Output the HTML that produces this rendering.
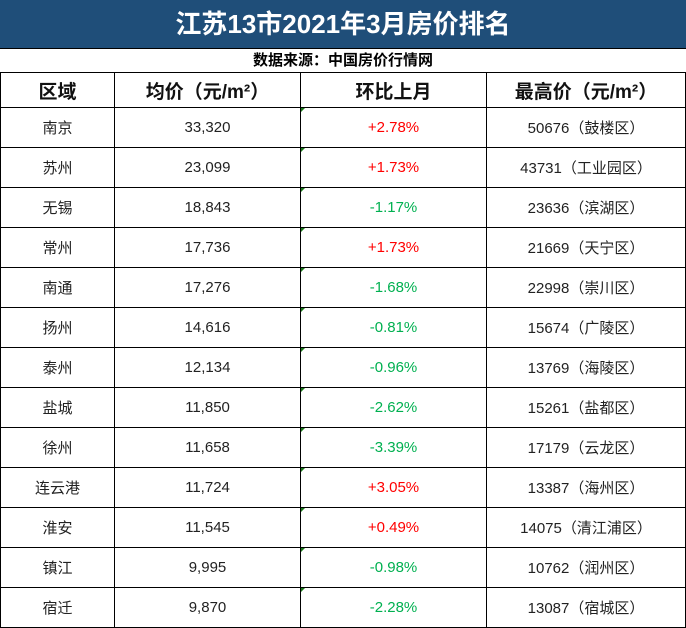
<!DOCTYPE html>
<html><head><meta charset="utf-8"><style>
body{margin:0;width:686px;height:628px;background:#fff;font-family:"Liberation Sans","Noto Sans CJK SC",sans-serif;overflow:hidden}
.wrap{position:absolute;left:0;top:0;width:684px;height:627px;border:1px solid #000;border-right:2px solid #000;box-sizing:border-box}
.title{position:absolute;left:0;top:0;width:686px;height:49px;background:#1f4e79;color:#fff;font-weight:bold;font-size:26px;text-align:center;line-height:49px;border-bottom:1px solid #000;box-sizing:border-box}
.sub{position:absolute;left:0;top:49px;width:686px;height:24px;text-align:center;font-weight:bold;font-size:15px;line-height:24px;border-bottom:1px solid #000;box-sizing:border-box}
table{position:absolute;left:0;top:72px;border-collapse:collapse;table-layout:fixed}
td{border:1px solid #000;text-align:center;font-size:15px;color:#222;height:39px;padding:0;position:relative}
tr.h td{height:34px;font-size:19px;font-weight:bold;color:#111}
.up{color:#ff0000}.dn{color:#00b050}
.tri{position:absolute;left:0;top:0;width:0;height:0;border-top:4px solid #1a7a1a;border-right:4px solid transparent}
</style></head><body>
<div class="title">江苏13市2021年3月房价排名</div>
<div class="sub">数据来源：中国房价行情网</div>
<table>
<colgroup><col style="width:114px"><col style="width:186px"><col style="width:186px"><col style="width:199px"></colgroup>
<tbody id="tb">
<tr class="h"><td>区域</td><td>均价（元/m²）</td><td>环比上月</td><td>最高价（元/m²）</td></tr>
</tbody></table>
<script>
const cities=["南京","苏州","无锡","常州","南通","扬州","泰州","盐城","徐州","连云港","淮安","镇江","宿迁"];
const avgPrices=["33,320","23,099","18,843","17,736","17,276","14,616","12,134","11,850","11,658","11,724","11,545","9,995","9,870"];
const changes=["+2.78%","+1.73%","-1.17%","+1.73%","-1.68%","-0.81%","-0.96%","-2.62%","-3.39%","+3.05%","+0.49%","-0.98%","-2.28%"];
const maxPrices=["50676（鼓楼区）","43731（工业园区）","23636（滨湖区）","21669（天宁区）","22998（崇川区）","15674（广陵区）","13769（海陵区）","15261（盐都区）","17179（云龙区）","13387（海州区）","14075（清江浦区）","10762（润州区）","13087（宿城区）"];
const tb=document.getElementById('tb');
cities.forEach((c,i)=>{
 const tr=document.createElement('tr');
 
 
 const vals=[c,avgPrices[i],changes[i],maxPrices[i]];
 const names=['region','avg-price','mom-change','max-price'];
 vals.forEach((v,j)=>{
  const td=document.createElement('td');
  
  
  td.textContent=v;
  if(j===2){td.className=v[0]==='+'?'up':'dn';const t=document.createElement('span');t.className='tri';td.appendChild(t);}
  tr.appendChild(td);
 });
 tb.appendChild(tr);
});
</script>
</body></html>
